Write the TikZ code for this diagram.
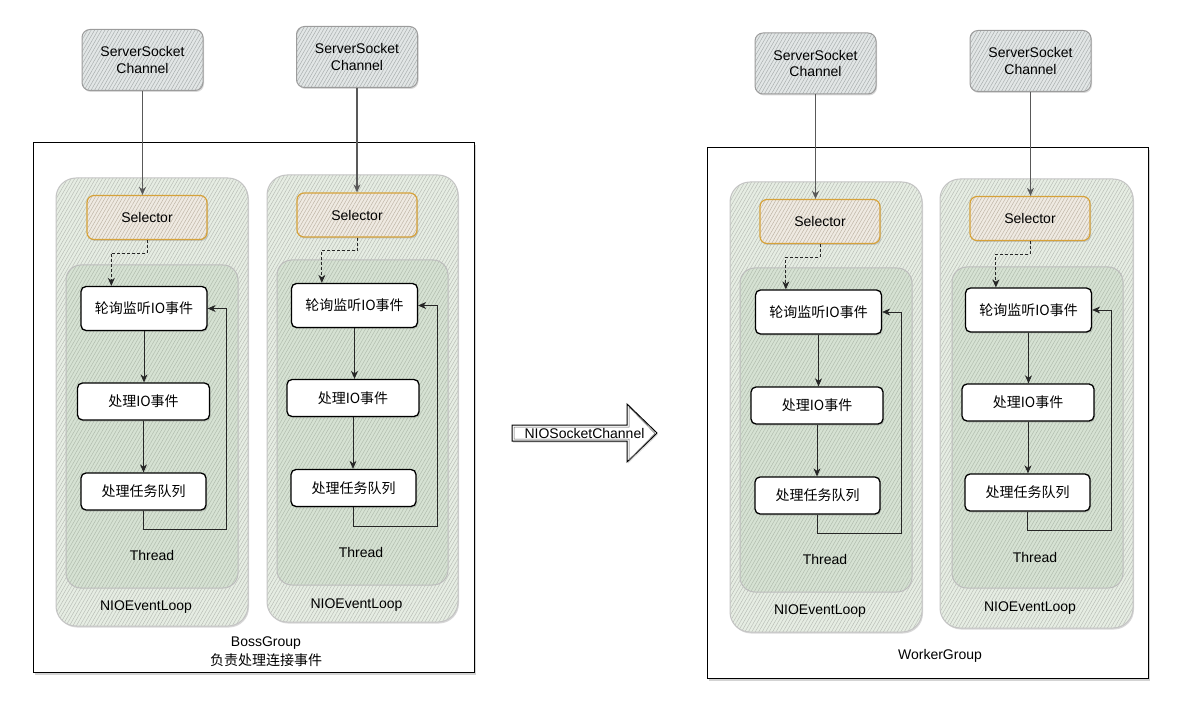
\documentclass[tikz,border=0pt]{standalone}
\usepackage{fontspec}
\setmainfont{Liberation Sans}
\newfontfamily\cjk{Noto Sans CJK SC}
\usetikzlibrary{patterns.meta,shadows,arrows.meta,calc}
\definecolor{sscfill}{HTML}{E2E6E6}
\definecolor{ssch}{HTML}{A9AEAE}
\definecolor{sscdraw}{HTML}{9C9C9C}
\definecolor{selfill}{HTML}{EFEAE2}
\definecolor{selh}{HTML}{BFB5A6}
\definecolor{seldraw}{HTML}{D6A23A}
\definecolor{loopfill}{HTML}{E6EDE3}
\definecolor{looph}{HTML}{B9BEB7}
\definecolor{loopdraw}{HTML}{C4C4C4}
\definecolor{thfill}{HTML}{D6E2D3}
\definecolor{thh}{HTML}{B1BCAE}
\definecolor{thdraw}{HTML}{BDBDBD}
\begin{document}
\begin{tikzpicture}[x=1pt,y=-1pt,
  font=\fontsize{14}{16.7}\selectfont,
  shad/.style={drop shadow={shadow xshift=1pt,shadow yshift=-1.5pt,opacity=0.3}},
  ssc/.style={shad,rounded corners=8pt,draw=sscdraw,line width=1pt,
    preaction={fill=sscfill},
    pattern={Lines[angle=60,distance=3pt,line width=0.5pt]},pattern color=ssch,
    minimum width=121pt,minimum height=61pt,align=center,inner sep=0pt},
  selbox/.style={shad,rounded corners=7pt,draw=seldraw,line width=1.2pt,
    preaction={fill=selfill},
    pattern={Lines[angle=60,distance=3pt,line width=0.5pt]},pattern color=selh,
    minimum width=120pt,minimum height=44pt,inner sep=0pt},
  loopbox/.style={shad,rounded corners=20pt,draw=loopdraw,line width=1pt,
    preaction={fill=loopfill},
    pattern={Lines[angle=60,distance=3pt,line width=0.5pt]},pattern color=looph,
    inner sep=0pt},
  thbox/.style={rounded corners=15pt,draw=thdraw,line width=1pt,
    preaction={fill=thfill},
    pattern={Lines[angle=60,distance=3pt,line width=0.5pt]},pattern color=thh,
    inner sep=0pt},
  proc/.style={shad,rounded corners=5pt,draw=black,line width=1.3pt,fill=white,
    inner sep=0pt,font=\fontsize{14}{16.7}\selectfont\cjk},
  group/.style={drop shadow={shadow xshift=1.5pt,shadow yshift=-2.5pt,opacity=0.35},
    draw=black,line width=1pt,fill=white,inner sep=0pt},
  lbl/.style={inner sep=0pt,align=center},
  conn/.style={draw=black!85,line width=0.8pt,-{Stealth[length=8pt,width=7pt,inset=2.5pt]}},
  sconn/.style={draw=black!65,line width=1.1pt,-{Stealth[length=8pt,width=7pt,inset=2.5pt]}},
  dconn/.style={draw=black!85,line width=0.8pt,dash pattern=on 3pt off 2pt,
    -{Stealth[length=8pt,width=7pt,inset=2.5pt]}}
]
\useasboundingbox (0,0) rectangle (1187,722);

% groups
\node[group,minimum width=441pt,minimum height=529pt] (boss) at (253.5,407.5) {};
\node[group,minimum width=441pt,minimum height=530pt] (worker) at (927.5,413) {};

% event loops
\node[loopbox,minimum width=192pt,minimum height=448pt] (n1) at (152,402) {};
\node[loopbox,minimum width=191pt,minimum height=447pt] (n2) at (362.5,398.5) {};
\node[loopbox,minimum width=192pt,minimum height=450pt] (n3) at (826,407) {};
\node[loopbox,minimum width=193pt,minimum height=449pt] (n4) at (1036.5,403.5) {};

% threads
\node[thbox,minimum width=172pt,minimum height=323pt] (th1) at (152,426.5) {};
\node[thbox,minimum width=171pt,minimum height=325pt] (th2) at (362.5,422.5) {};
\node[thbox,minimum width=172pt,minimum height=324pt] (th3) at (826,430) {};
\node[thbox,minimum width=171pt,minimum height=321pt] (th4) at (1037.5,427.5) {};

% server socket channels
\node[ssc] (ssc1) at (142.5,60) {ServerSocket\\Channel};
\node[ssc] (ssc2) at (357,57) {ServerSocket\\Channel};
\node[ssc] (ssc3) at (815.5,63.5) {ServerSocket\\Channel};
\node[ssc] (ssc4) at (1030.5,61) {ServerSocket\\Channel};

% selectors
\node[selbox] (sel1) at (147,217.5) {Selector};
\node[selbox] (sel2) at (357,215) {Selector};
\node[selbox] (sel3) at (820,221.5) {Selector};
\node[selbox] (sel4) at (1030,218.5) {Selector};

% poll boxes
\node[proc,minimum width=126pt,minimum height=44pt] (p1) at (144,308.5) {轮询监听IO事件};
\node[proc,minimum width=126pt,minimum height=44pt] (p2) at (354.5,305.5) {轮询监听IO事件};
\node[proc,minimum width=126pt,minimum height=44pt] (p3) at (818.5,312) {轮询监听IO事件};
\node[proc,minimum width=126pt,minimum height=44pt] (p4) at (1028.5,310) {轮询监听IO事件};

% io boxes
\node[proc,minimum width=132pt,minimum height=37pt] (io1) at (143.5,401.5) {处理IO事件};
\node[proc,minimum width=132pt,minimum height=37pt] (io2) at (353,398) {处理IO事件};
\node[proc,minimum width=132pt,minimum height=37pt] (io3) at (817,405.5) {处理IO事件};
\node[proc,minimum width=132pt,minimum height=37pt] (io4) at (1028,402.5) {处理IO事件};

% task boxes
\node[proc,minimum width=125pt,minimum height=37pt] (t1) at (143.5,491.5) {处理任务队列};
\node[proc,minimum width=125pt,minimum height=37pt] (t2) at (353.5,488) {处理任务队列};
\node[proc,minimum width=125pt,minimum height=37pt] (t3) at (817.5,495.5) {处理任务队列};
\node[proc,minimum width=125pt,minimum height=37pt] (t4) at (1027.5,492.5) {处理任务队列};

% labels
\node[lbl] (thl1) at (152,555) {Thread};
\node[lbl] (thl2) at (361,552) {Thread};
\node[lbl] (thl3) at (825,559) {Thread};
\node[lbl] (thl4) at (1035,557) {Thread};
\node[lbl] (nl1) at (146,607) {NIOEventLoop};
\node[lbl] (nl2) at (356.5,605) {NIOEventLoop};
\node[lbl] (nl3) at (820,611) {NIOEventLoop};
\node[lbl] (nl4) at (1030,608) {NIOEventLoop};
\node[lbl,font=\fontsize{14}{19}\selectfont] (bosslbl) at (266,652) {BossGroup\\{\cjk 负责处理连接事件}};
\node[lbl] (workerlbl) at (940,656) {WorkerGroup};

% connectors
\foreach \i in {1,2,3,4}{
  \draw[sconn] (ssc\i.south) -- (ssc\i.south |- sel\i.north);
  \draw[dconn] (sel\i.south) -- ++(0,13) -| ($(p\i.north west)+(31,0)$);
  \draw[conn] (p\i.south) -- (p\i.south |- io\i.north);
  \draw[conn] (io\i.south) -- (io\i.south |- t\i.north);
  \draw[conn] (t\i.south) -- ++(0,19) -| ($(p\i.east)+(19,0)$) -- (p\i.east);
}

% block arrow
\draw[shad,draw=black,line width=1pt,fill=white]
  (512,425) -- (627,425) -- (627,404) -- (657,433) -- (627,462) -- (627,441) -- (512,441) -- cycle;
\draw[black!60,line width=0.5pt]
  (514,427) -- (629,427) -- (629,407) -- (655,433.5) -- (629,460) -- (629,439) -- (514,439) -- cycle;
\node[lbl] (nsc) at (584.5,433) {NIOSocketChannel};
\end{tikzpicture}
\end{document}
